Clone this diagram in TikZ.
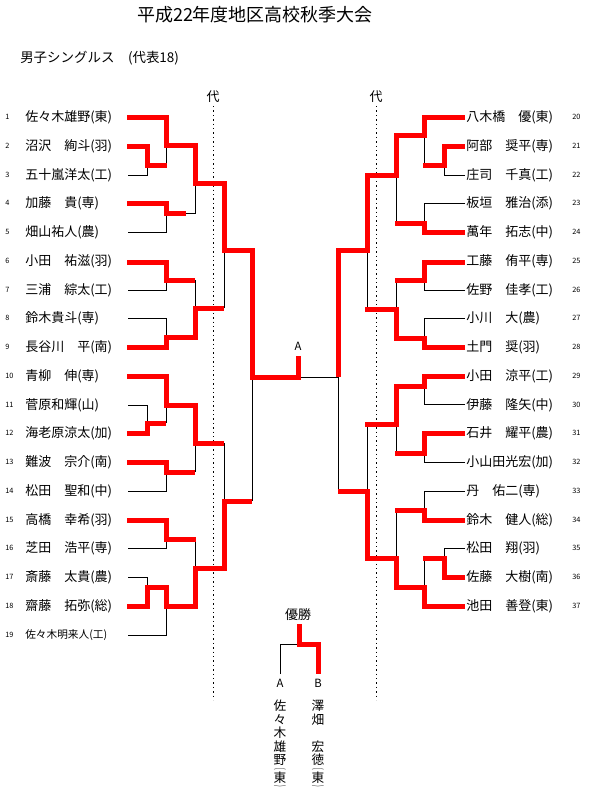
\documentclass[tikz,border=0pt]{standalone}
\usepackage{fontspec}
\usepackage{graphicx}
\setmainfont{Noto Sans CJK JP}
\newcommand\nmfont{\fontsize{9.75}{11}\selectfont}
\newcommand\smfont{\fontsize{8}{9}\selectfont}
\newcommand\numfont{\fontsize{5.5}{6}\selectfont}
\newcommand\ttlfont{\fontsize{13.5}{15}\selectfont}
\newcommand\subfont{\fontsize{10.1}{12}\selectfont}
\newcommand\vtfont{\fontsize{9.5}{10.125}\selectfont}
\begin{document}
\begin{tikzpicture}[x=0.75pt,y=-0.75pt,
  win/.style={draw=red,line width=3.75pt,line join=miter,line cap=butt},
  los/.style={draw=black,line width=0.75pt},
  dotline/.style={draw=black,line width=0.75pt,dash pattern=on 1.1pt off 2.2pt},
  lname/.style={anchor=west,inner sep=0pt,font=\nmfont},
  rname/.style={anchor=west,inner sep=0pt,font=\nmfont},
  num/.style={anchor=west,inner sep=0pt,font=\numfont},
  lbl/.style={inner sep=0pt,font=\nmfont},
  vch/.style={inner sep=0pt,font=\vtfont}]
\useasboundingbox (0,0) rectangle (589,803);
% titles
\node[inner sep=0pt,font=\ttlfont] (title) at (255,15) {平成22年度地区高校秋季大会};
\node[anchor=west,inner sep=0pt,font=\subfont] (sub) at (20,58) {男子シングルス　(代表18)};
% representative lines
\node[lbl] (dai1) at (213,97) {代};
\node[lbl] (dai2) at (376,97) {代};
\coordinate (d1a) at (213,106); \coordinate (d1b) at (213,700);
\coordinate (d2a) at (376,106); \coordinate (d2b) at (376,700);
\draw[dotline] (d1a) -- (d1b);
\draw[dotline] (d2a) -- (d2b);
% left names
\foreach \i/\y/\t in {1/117/佐々木雄野(東),2/146/沼沢　絢斗(羽),3/175/五十嵐洋太(工),4/203/加藤　貴(専),5/232/畑山祐人(農),6/261/小田　祐滋(羽),7/290/三浦　綜太(工),8/318/鈴木貴斗(専),9/347/長谷川　平(南),10/376/青柳　伸(専),11/405/菅原和輝(山),12/433/海老原涼太(加),13/462/難波　宗介(南),14/491/松田　聖和(中),15/520/高橋　幸希(羽),16/548/芝田　浩平(専),17/577/斎藤　太貴(農),18/606/齋藤　拓弥(総)}{
  \node[num] (ln\i) at (5,\y) {\i};
  \node[lname] (lp\i) at (25,\y) {\t};
}
\node[num] (ln19) at (5,635) {19};
\node[lname,font=\smfont] (lp19) at (25,635) {佐々木明来人(工)};
% right names
\foreach \i/\y/\t in {20/117/八木橋　優(東),21/146/阿部　奨平(専),22/175/庄司　千真(工),23/203/板垣　雅治(添),24/232/萬年　拓志(中),25/261/工藤　侑平(専),26/290/佐野　佳孝(工),27/318/小川　大(農),28/347/土門　奨(羽),29/376/小田　涼平(工),30/405/伊藤　隆矢(中),31/433/石井　耀平(農),32/462/小山田光宏(加),33/491/丹　佑二(専),34/520/鈴木　健人(総),35/548/松田　翔(羽),36/577/佐藤　大樹(南),37/606/池田　善登(東)}{
  \node[rname] (rp\i) at (466,\y) {\t};
  \node[num] (rn\i) at (572,\y) {\i};
}
% ---------- left bracket: black ----------
\draw[los] (166,145) -- (166,165);
\draw[los] (128,175) -- (147,175) -- (147,165);
\draw[los] (186,213) -- (195,213) -- (195,183);
\draw[los] (128,232) -- (166,232) -- (166,213);
\draw[los] (128,290) -- (166,290) -- (166,280);
\draw[los] (195,280) -- (195,308);
\draw[los] (128,318) -- (166,318) -- (166,337);
\draw[los] (224,250) -- (224,308);
\draw[los] (128,405) -- (147,405) -- (147,423);
\draw[los] (166,405) -- (166,423);
\draw[los] (195,443) -- (195,472);
\draw[los] (128,491) -- (166,491) -- (166,472);
\draw[los] (224,443) -- (224,501);
\draw[los] (128,577) -- (147,577) -- (147,587);
\draw[los] (128,635) -- (166,635) -- (166,606);
\draw[los] (128,548) -- (166,548) -- (166,539);
\draw[los] (195,539) -- (195,568);
\draw[los] (252,377) -- (252,501);
% ---------- right bracket: black ----------
\draw[los] (465,175) -- (444,175) -- (444,165);
\draw[los] (424,135) -- (424,165);
\draw[los] (465,203) -- (424,203) -- (424,223);
\draw[los] (396,175) -- (396,223);
\draw[los] (465,290) -- (424,290) -- (424,280);
\draw[los] (396,280) -- (396,309);
\draw[los] (465,318) -- (424,318) -- (424,338);
\draw[los] (367,250) -- (367,309);
\draw[los] (465,404) -- (424,404) -- (424,386);
\draw[los] (465,462) -- (424,462) -- (424,453);
\draw[los] (396,424) -- (396,453);
\draw[los] (367,424) -- (367,491);
\draw[los] (465,491) -- (424,491) -- (424,510);
\draw[los] (396,510) -- (396,558);
\draw[los] (465,548) -- (444,548) -- (444,558);
\draw[los] (424,558) -- (424,587);
\draw[los] (338,377) -- (338,491);
\draw[los] (298,377) -- (338,377);
% ---------- left bracket: red ----------
\draw[win] (127,117) -- (166,117) -- (166,145) -- (195,145) -- (195,183) -- (224,183) -- (224,250) -- (252,250) -- (252,377) -- (298,377) -- (298,356);
\draw[win] (127,146) -- (147,146) -- (147,165) -- (167,165);
\draw[win] (127,203) -- (166,203) -- (166,213) -- (186,213);
\draw[win] (127,262) -- (166,262) -- (166,280) -- (195,280);
\draw[win] (127,347) -- (166,347) -- (166,337) -- (195,337) -- (195,308) -- (224,308);
\draw[win] (127,376) -- (166,376) -- (166,405) -- (195,405) -- (195,443) -- (224,443);
\draw[win] (127,433) -- (147,433) -- (147,423) -- (166,423);
\draw[win] (127,462) -- (166,462) -- (166,472) -- (195,472);
\draw[win] (127,520) -- (166,520) -- (166,539) -- (196,539);
\draw[win] (127,606) -- (147,606) -- (147,587) -- (166,587) -- (166,606) -- (195,606) -- (195,568) -- (224,568) -- (224,501) -- (252,501);
% ---------- right bracket: red ----------
\draw[win] (465,117) -- (424,117) -- (424,135) -- (396,135) -- (396,175) -- (367,175) -- (367,250) -- (338,250) -- (338,377);
\draw[win] (465,146) -- (444,146) -- (444,165) -- (423,165);
\draw[win] (465,232) -- (424,232) -- (424,223) -- (395,223);
\draw[win] (465,262) -- (424,262) -- (424,280) -- (395,280);
\draw[win] (465,347) -- (424,347) -- (424,338) -- (396,338) -- (396,309) -- (365,309);
\draw[win] (465,376) -- (424,376) -- (424,386) -- (396,386) -- (396,424) -- (365,424);
\draw[win] (465,433) -- (424,433) -- (424,453) -- (395,453);
\draw[win] (465,520) -- (424,520) -- (424,510) -- (395,510);
\draw[win] (465,577) -- (444,577) -- (444,558) -- (423,558);
\draw[win] (465,606) -- (424,606) -- (424,587) -- (396,587) -- (396,558) -- (367,558) -- (367,491) -- (338,491);
% A label
\node[lbl,font=\fontsize{8.5}{9}\selectfont] (Alab) at (298,346) {A};
% final
\node[lbl] (yusho) at (298,615) {優勝};
\draw[los] (280,674) -- (280,644) -- (299,644);
\draw[win] (299,624) -- (299,644) -- (318,644) -- (318,674);
\node[lbl,font=\fontsize{8.5}{9}\selectfont] (fA) at (280,683) {A};
\node[lbl,font=\fontsize{8.5}{9}\selectfont] (fB) at (318,683) {B};
% vertical names
\foreach \c/\y [count=\k] in {佐/706,々/719.5,木/733,雄/746.5,野/760,東/778}{
  \node[vch] (va\k) at (280,\y) {\c};
}
\foreach \c/\y [count=\k] in {澤/706,畑/719.5,宏/746.5,徳/760,東/778}{
  \node[vch] (vb\k) at (318,\y) {\c};
}
\node[vch] (vapl) at (280,768.8) {\scalebox{1}[0.38]{︵}};
\node[vch] (vapr) at (280,787.2) {\scalebox{1}[0.38]{︶}};
\node[vch] (vbpl) at (318,768.8) {\scalebox{1}[0.38]{︵}};
\node[vch] (vbpr) at (318,787.2) {\scalebox{1}[0.38]{︶}};
\end{tikzpicture}
\end{document}
